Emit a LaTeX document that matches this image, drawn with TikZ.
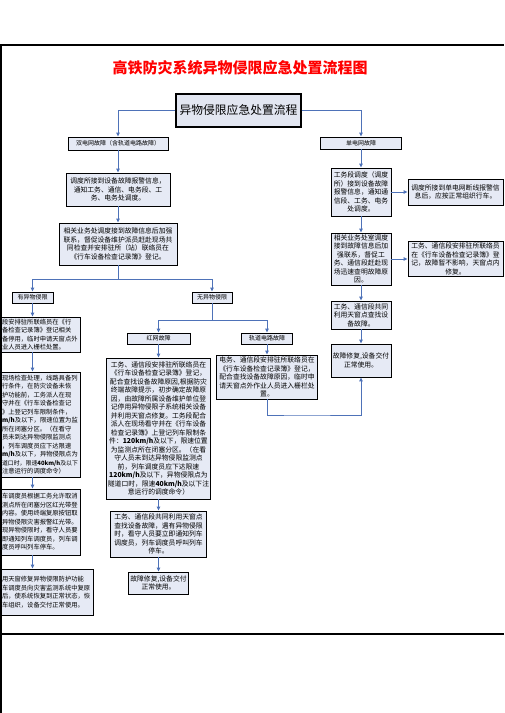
\documentclass[tikz,border=0pt]{standalone}
\usepackage{fontspec}
\setmainfont{Noto Sans CJK SC}
\usetikzlibrary{arrows.meta}
\definecolor{boxfill}{RGB}{230,234,245}
\definecolor{mainfill}{RGB}{226,230,241}
\definecolor{linkblue}{RGB}{78,114,184}
\definecolor{titlered}{RGB}{255,0,0}
\newcommand{\kmh}[1]{\textbf{#1km/h}}

\begin{document}
\begin{tikzpicture}[x=1pt, y=-1pt,
  every node/.style={font=\fontsize{6.8}{8.5}\selectfont},
  pbox/.style={draw, fill=boxfill, line width=0.9pt, align=center, inner sep=1.5pt},
  lbox/.style={pbox, align=left, anchor=east, text width=77pt,
               font=\fontsize{6.3}{8.5}\selectfont},
  tag/.style={draw, fill=boxfill, line width=0.9pt, inner sep=1pt,
              font=\fontsize{6}{7}\selectfont},
  arr/.style={-{Triangle[length=4pt, width=3.6pt]}, draw=linkblue, line width=1pt},
  link/.style={draw=linkblue, line width=1pt}
]
  \useasboundingbox (0,0) rectangle (504,713);
  \clip (0,0) rectangle (504,713);

  \node[font=\fontsize{15}{18}\selectfont\bfseries, text=titlered] (title) at (240,68)
       {高铁防灾系统异物侵限应急处置流程图};
  \node[pbox, fill=mainfill, line width=1.3pt, minimum width=125pt, minimum height=33pt,
        font=\fontsize{11.8}{14}\selectfont] (flow) at (238.5,110.5) {异物侵限应急处置流程};

  % double grid branch
  \node[tag, minimum width=100pt, minimum height=13pt] (dual) at (118,143.5) {双电网故障（含轨道电路故障）};
  \node[pbox, minimum width=104pt, minimum height=33pt] (alarm) at (118,189.5)
       {调度所接到设备故障报警信息，\\通知工务、通信、电务段、工\\务、电务处调度。};
  \node[pbox, minimum width=118pt, minimum height=42pt] (liaise) at (118,244)
       {相关业务处调度接到故障信息后加强\\联系，督促设备维护派员赶赴现场共\\同检查并安排驻所（站）联络员在\\《行车设备检查记录簿》登记。};
  \coordinate (split) at (118,279);

  \node[tag, minimum width=41pt, minimum height=11pt] (has) at (32.5,297.5) {有异物侵限};
  \node[tag, minimum width=40pt, minimum height=11pt] (no) at (212,297.5) {无异物侵限};

  % foreign object present (boxes run past the left frame)
  \node[lbox, minimum height=35pt] (l1) at (81,334.5)
       {段安排驻所联络员在《行\\备检查记录簿》登记相关\\备停用，临时申请天窗点外\\业人员进入栅栏处置。};
  \node[lbox, minimum height=105pt] (l2) at (81,424.5)
       {现场检查处理，线路具备列\\行条件，在防灾设备未恢\\护功能前，工务派人在现\\守并在《行车设备检查记\\》上登记列车限制条件，\\\textbf{m/h}及以下，限速位置为监\\所在闭塞分区。（在看守\\员未到达异物侵限监测点\\，列车调度员应下达限速\\\textbf{m/h}及以下，异物侵限点为\\{\fontsize{5.9}{8.5}\selectfont 道口时，限速\kmh{40}及以下}\\注意运行的调度命令）};
  \node[lbox, minimum height=66pt] (l3) at (81,522)
       {车调度员根据工务允许取消\\测点所在闭塞分区红光带登\\内容。使用终端复原按钮取\\异物侵限灾害报警红光带。\\现异物侵限时，看守人员要\\即通知列车调度员，列车调\\度员呼叫列车停车。};
  \node[lbox, text width=90pt, minimum height=46pt] (l4) at (94,592)
       {用天窗修复异物侵限防护功能\\车调度员向灾害监测系统中复原\\后，使系统恢复到正常状态，恢\\车组织，设备交付正常使用。};

  % no foreign object
  \coordinate (split2) at (212,320);
  \node[tag, minimum width=63pt, minimum height=11pt] (red) at (158.5,338.5) {红网故障};
  \node[tag, minimum width=51pt, minimum height=11pt] (track) at (267,338.5) {轨道电路故障};
  \node[pbox, minimum width=102pt, minimum height=141pt] (m2) at (158.5,428.5)
       {工务、通信段安排驻所联络员在\\《行车设备检查记录簿》登记，\\配合查找设备故障原因,根据防灾\\终端故障提示，初步确定故障原\\因，由故障所属设备维护单位登\\记停用异物侵限子系统相关设备\\并利用天窗点修复。工务段配合\\派人在现场看守并在《行车设备\\检查记录簿》上登记列车限制条\\件：\kmh{120}及以下，限速位置\\为监测点所在闭塞分区。（在看\\守人员未到达异物侵限监测点\\前，列车调度员应下达限速\\\kmh{120}及以下，异物侵限点为\\隧道口时，限速\kmh{40}及以下注\\意运行的调度命令）};
  \node[pbox, minimum width=101pt, minimum height=44pt] (m3) at (267,377)
       {电务、通信段安排驻所联络员在\\《行车设备检查记录簿》登记，\\配合查找设备故障原因，临时申\\请天窗点外作业人员进入栅栏处\\置。};
  \node[pbox, minimum width=96pt, minimum height=46pt] (m4) at (158.5,534)
       {工务、通信段共同利用天窗点\\查找设备故障，遇有异物侵限\\时，看守人员要立即通知列车\\调度员，列车调度员呼叫列车\\停车。};
  \node[pbox, minimum width=60pt, minimum height=22pt] (m5) at (158.5,583)
       {故障修复,设备交付\\正常使用。};
  \coordinate (back) at (300,415);

  % single grid branch
  \node[tag, minimum width=81pt, minimum height=12pt] (single) at (361,143) {单电网故障};
  \node[pbox, minimum width=60pt, minimum height=48pt] (r1) at (361,192)
       {工务段调度（调度\\所）接到设备故障\\报警信息，通知通\\信段、工务、电务\\处调度。};
  \node[pbox, minimum width=95pt, minimum height=26pt] (r1b) at (455.5,192)
       {调度所接到单电网断线报警信\\息后，应按正常组织行车。};
  \node[pbox, minimum width=60pt, minimum height=52pt] (r2) at (361,259)
       {相关业务处室调度\\接到故障信息后加\\强联系，督促工\\务、通信段赶赴现\\场迅速查明故障原\\因。};
  \node[pbox, minimum width=95pt, minimum height=33pt] (r2b) at (455.5,259)
       {工务、通信段安排驻所联络员\\在《行车设备检查记录簿》登\\记，故障暂不影响，天窗点内\\修复。};
  \node[pbox, minimum width=60pt, minimum height=28pt] (r3) at (361,315)
       {工务、通信段共同\\利用天窗点查找设\\备故障。};
  \node[pbox, minimum width=60pt, minimum height=33pt] (r4) at (361,360.5)
       {故障修复,设备交付\\正常使用。};

  \draw[arr] (flow) -| (dual);
  \draw[arr] (flow) -| (single);
  \draw[arr] (dual) -- (alarm);
  \draw[arr] (alarm) -- (liaise);
  \draw[link] (liaise) -- (split);
  \draw[arr] (split) -| (has);
  \draw[arr] (split) -| (no);
  \draw[arr] (has) -- (has |- l1.north);
  \draw[arr] (has |- l1.south) -- (has |- l2.north);
  \draw[arr] (has |- l2.south) -- (has |- l3.north);
  \draw[arr] (has |- l3.south) -- (has |- l4.north);
  \draw[link] (no) -- (split2);
  \draw[arr] (split2) -| (red);
  \draw[arr] (split2) -| (track);
  \draw[arr] (red) -- (m2);
  \draw[arr] (track) -- (m3);
  \draw[arr] (m2) -- (m4);
  \draw[arr] (m4) -- (m5);
  \draw[arr] (m3) |- (back) -| (r4);
  \draw[arr] (single) -- (r1);
  \draw[arr] (r1) -- (r1b);
  \draw[arr] (r1) -- (r2);
  \draw[arr] (r2) -- (r2b);
  \draw[arr] (r2) -- (r3);
  \draw[arr] (r3) -- (r4);

  % page frame
  \draw[line width=1.3pt] (0,45) -- (504,45);
  \draw[line width=1.3pt] (0,634) -- (504,634);
  \draw[line width=1.3pt] (1,45) -- (1,713);
\end{tikzpicture}
\end{document}
